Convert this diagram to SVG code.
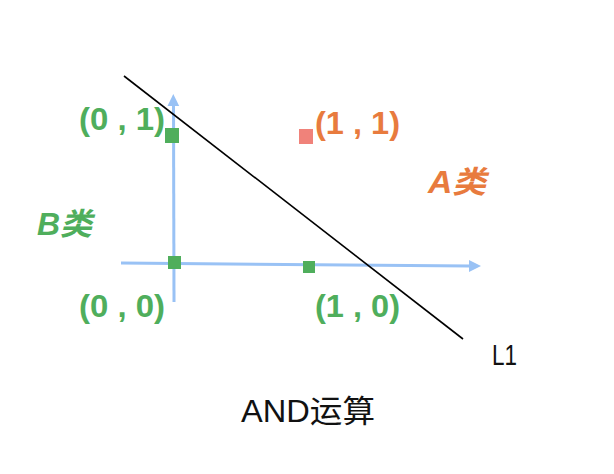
<svg xmlns="http://www.w3.org/2000/svg" width="614" height="474" viewBox="0 0 614 474">
<defs>
<style>
.lbl{font-family:"Liberation Sans","Noto Sans CJK SC",sans-serif;font-weight:bold;font-size:31px}
.g{fill:#4FAE5C}
.o{fill:#E87B3E}
.axis{stroke:#99C2F5;stroke-width:3;fill:none}
.plain{font-family:"Liberation Sans","Noto Sans CJK SC",sans-serif;fill:#111}
</style>
</defs>
<rect width="614" height="474" fill="#fff"/>
<g id="connectors">
<line class="axis" x1="174" y1="302" x2="173.5" y2="104"/>
<polygon points="173.3,94 167.5,106 179.2,106" fill="#99C2F5"/>
<line class="axis" x1="121" y1="263" x2="470" y2="266"/>
<polygon points="481,266 469,260 469,272" fill="#99C2F5"/>
<line x1="124" y1="76" x2="463" y2="339" stroke="#000" stroke-width="1.6"/>
</g>
<g id="p01"><rect x="165" y="128" width="14" height="15" class="g"/>
<text class="lbl g" x="79" y="130" textLength="86" lengthAdjust="spacingAndGlyphs">(0 , 1)</text></g>
<g id="p11"><rect x="299" y="129" width="14" height="15" fill="#F0827A"/>
<text class="lbl o" x="315" y="134" textLength="85" lengthAdjust="spacingAndGlyphs">(1 , 1)</text></g>
<g id="p00"><rect x="168" y="256" width="13" height="13" class="g"/>
<text class="lbl g" x="79" y="317" textLength="86" lengthAdjust="spacingAndGlyphs">(0 , 0)</text></g>
<g id="p10"><rect x="303" y="261" width="12" height="12" class="g"/>
<text class="lbl g" x="315" y="317" textLength="85" lengthAdjust="spacingAndGlyphs">(1 , 0)</text></g>
<g id="classA"><text class="lbl o" x="428" y="193" font-style="italic" textLength="58" lengthAdjust="spacingAndGlyphs">A类</text></g>
<g id="classB"><text class="lbl g" x="37" y="235" font-style="italic" textLength="55" lengthAdjust="spacingAndGlyphs">B类</text></g>
<g id="L1"><text class="plain" x="492" y="365" font-size="29" textLength="25" lengthAdjust="spacingAndGlyphs">L1</text></g>
<g id="title"><text class="plain" x="241" y="422" font-size="31" textLength="134" lengthAdjust="spacingAndGlyphs">AND运算</text></g>
</svg>
